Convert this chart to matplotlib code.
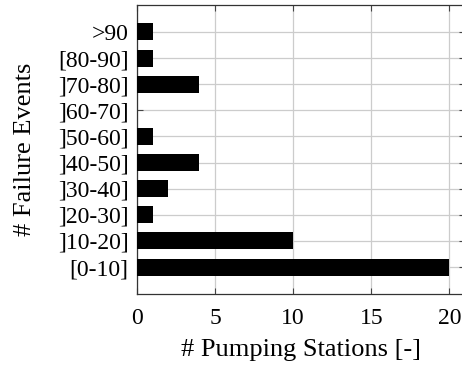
import matplotlib
matplotlib.use("Agg")
import matplotlib.pyplot as plt

# Número de estaciones de bombeo por intervalo de eventos de fallo
categories = ["[0-10]", "]10-20]", "]20-30]", "]30-40]", "]40-50]",
              "]50-60]", "]60-70]", "]70-80]", "[80-90]", ">90"]
stations = [20, 10, 1, 2, 4, 1, 0, 4, 1, 1]
x_ticks = [0, 5, 10, 15, 20]

plt.rcParams["font.family"] = ["Liberation Serif", "DejaVu Serif"]

fig = plt.figure(figsize=(4.62, 3.69), dpi=100)
ax = fig.add_axes([0.2965, 0.2033, 0.71, 0.7831])

ax.barh(range(len(categories)), stations, height=0.65, color="black", zorder=3)

ax.set_xlim(0, 21)
ax.set_ylim(-1.03, len(categories) - 1 + 1.03)
ax.set_xticks(x_ticks)
ax.set_yticks(range(len(categories)))
ax.set_yticklabels(categories)

ax.grid(True, color="#cccccc", linewidth=0.9, zorder=0)
ax.set_axisbelow(True)
ax.tick_params(direction="in", length=4, width=0.8, color="#444444",
               labelsize=17, top=True, right=True)
ax.tick_params(axis="x", pad=10)
ax.tick_params(axis="y", pad=6)
for s in ax.spines.values():
    s.set_color("#333333")
    s.set_linewidth(0.9)

ax.set_xlabel("# Pumping Stations [-]", fontsize=19, labelpad=7)
ax.set_ylabel("# Failure Events", fontsize=19, labelpad=16)

fig.savefig("out.png", dpi=100)
plt.close(fig)
